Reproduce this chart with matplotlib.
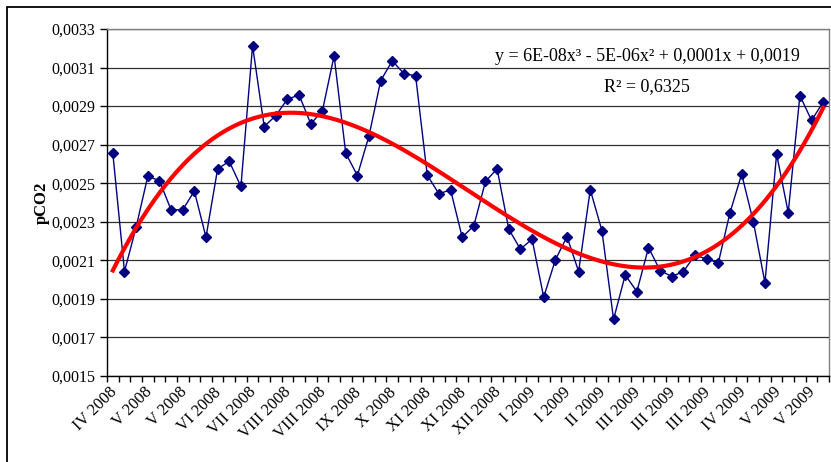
import numpy as np
import matplotlib
matplotlib.use("Agg")
import matplotlib.pyplot as plt
from matplotlib.ticker import FuncFormatter, FixedLocator
from matplotlib.patches import Rectangle
import matplotlib.transforms as mtransforms

pco2 = [0.002656, 0.002042, 0.002272, 0.002535, 0.002514, 0.002362, 0.002362, 0.002459,
        0.002220, 0.002575, 0.002613, 0.002483, 0.003213, 0.002794, 0.002851, 0.002937,
        0.002957, 0.002808, 0.002876, 0.003161, 0.002656, 0.002540, 0.002746, 0.003032,
        0.003135, 0.003068, 0.003058, 0.002542, 0.002445, 0.002466, 0.002220, 0.002279,
        0.002509, 0.002575, 0.002262, 0.002158, 0.002210, 0.001909, 0.002102, 0.002223,
        0.002042, 0.002466, 0.002254, 0.001794, 0.002024, 0.001938, 0.002166, 0.002047,
        0.002016, 0.002042, 0.002128, 0.002106, 0.002088, 0.002348, 0.002547, 0.002301,
        0.001984, 0.002651, 0.002348, 0.002955, 0.002826, 0.002921]

tick_labels = ["IV 2008", "V 2008", "V 2008", "VI 2008", "VII 2008", "VIII 2008",
               "VIII 2008", "IX 2008", "X 2008", "XI 2008", "XI 2008", "XII 2008",
               "I 2009", "I 2009", "II 2009", "III 2009", "III 2009", "III 2009",
               "IV 2009", "V 2009", "V 2009"]
label_step = 3
y_ticks = [0.0015, 0.0017, 0.0019, 0.0021, 0.0023, 0.0025, 0.0027, 0.0029, 0.0031, 0.0033]

eq_text = "y = 6E-08x³ - 5E-06x² + 0,0001x + 0,0019"
r2_text = "R² = 0,6325"

plt.rcParams['font.family'] = ['Liberation Serif', 'DejaVu Serif']

fig = plt.figure(figsize=(8.31, 4.62), dpi=100)
fig.patches.append(Rectangle((7/831, -0.1), 1.2, 1 - 7/462 + 0.1, transform=fig.transFigure,
                             fill=False, edgecolor='black', linewidth=1.3))
ax = fig.add_axes([107/831, 1 - 376/462, 722/831, 347/462])

n = len(pco2)
x = np.arange(1, n + 1)
ax.plot(x, pco2, color='#000080', linewidth=1.0, marker='D', markersize=5.5,
        markerfacecolor='#000080', markeredgecolor='#000080', zorder=3)

coef = np.polyfit(x, pco2, 3)
xf = np.linspace(1, n, 300)
ax.plot(xf, np.polyval(coef, xf), color='#FF0000', linewidth=3.0, zorder=4)

ax.set_xlim(0.5, n + 0.5)
ax.set_ylim(y_ticks[0], y_ticks[-1])
ax.yaxis.set_major_locator(FixedLocator(y_ticks))
ax.yaxis.set_major_formatter(FuncFormatter(lambda v, p: f"{v:.4f}".replace('.', ',')))
ax.grid(axis='y', color='#303030', linewidth=0.9)
ax.set_axisbelow(True)

# category boundary ticks
ax.xaxis.set_major_locator(FixedLocator(np.arange(0.5, n + 1.0, 1.0)))
ax.xaxis.set_major_formatter(FuncFormatter(lambda v, p: ""))
lab_pos = x[::label_step][:len(tick_labels)]
ax.set_xticks(lab_pos, tick_labels, minor=True)
ax.tick_params(axis='x', which='minor', length=0, labelsize=12, pad=6)
offset = mtransforms.ScaledTranslation(-4/100, 0, fig.dpi_scale_trans)
for t in ax.get_xticklabels(minor=True):
    t.set_rotation(45)
    t.set_ha('right')
    t.set_va('top')
    t.set_rotation_mode('anchor')
    t.set_transform(t.get_transform() + offset)
ax.tick_params(axis='x', which='major', length=4, direction='out', width=1)
ax.tick_params(axis='y', which='major', length=5, direction='out', width=1, labelsize=11.5)

for s in ['left', 'bottom']:
    ax.spines[s].set_color('black')
    ax.spines[s].set_linewidth(1.0)
for s in ['top', 'right']:
    ax.spines[s].set_color('#808080')
    ax.spines[s].set_linewidth(1.0)

ax.set_ylabel("pCO2", fontsize=12, fontweight='bold', labelpad=1)

ax.text(0.748, 0.92, eq_text, transform=ax.transAxes, ha='center', va='center', fontsize=13)
ax.text(0.748, 0.835, r2_text, transform=ax.transAxes, ha='center', va='center', fontsize=13)

fig.savefig("out.png", dpi=100)
